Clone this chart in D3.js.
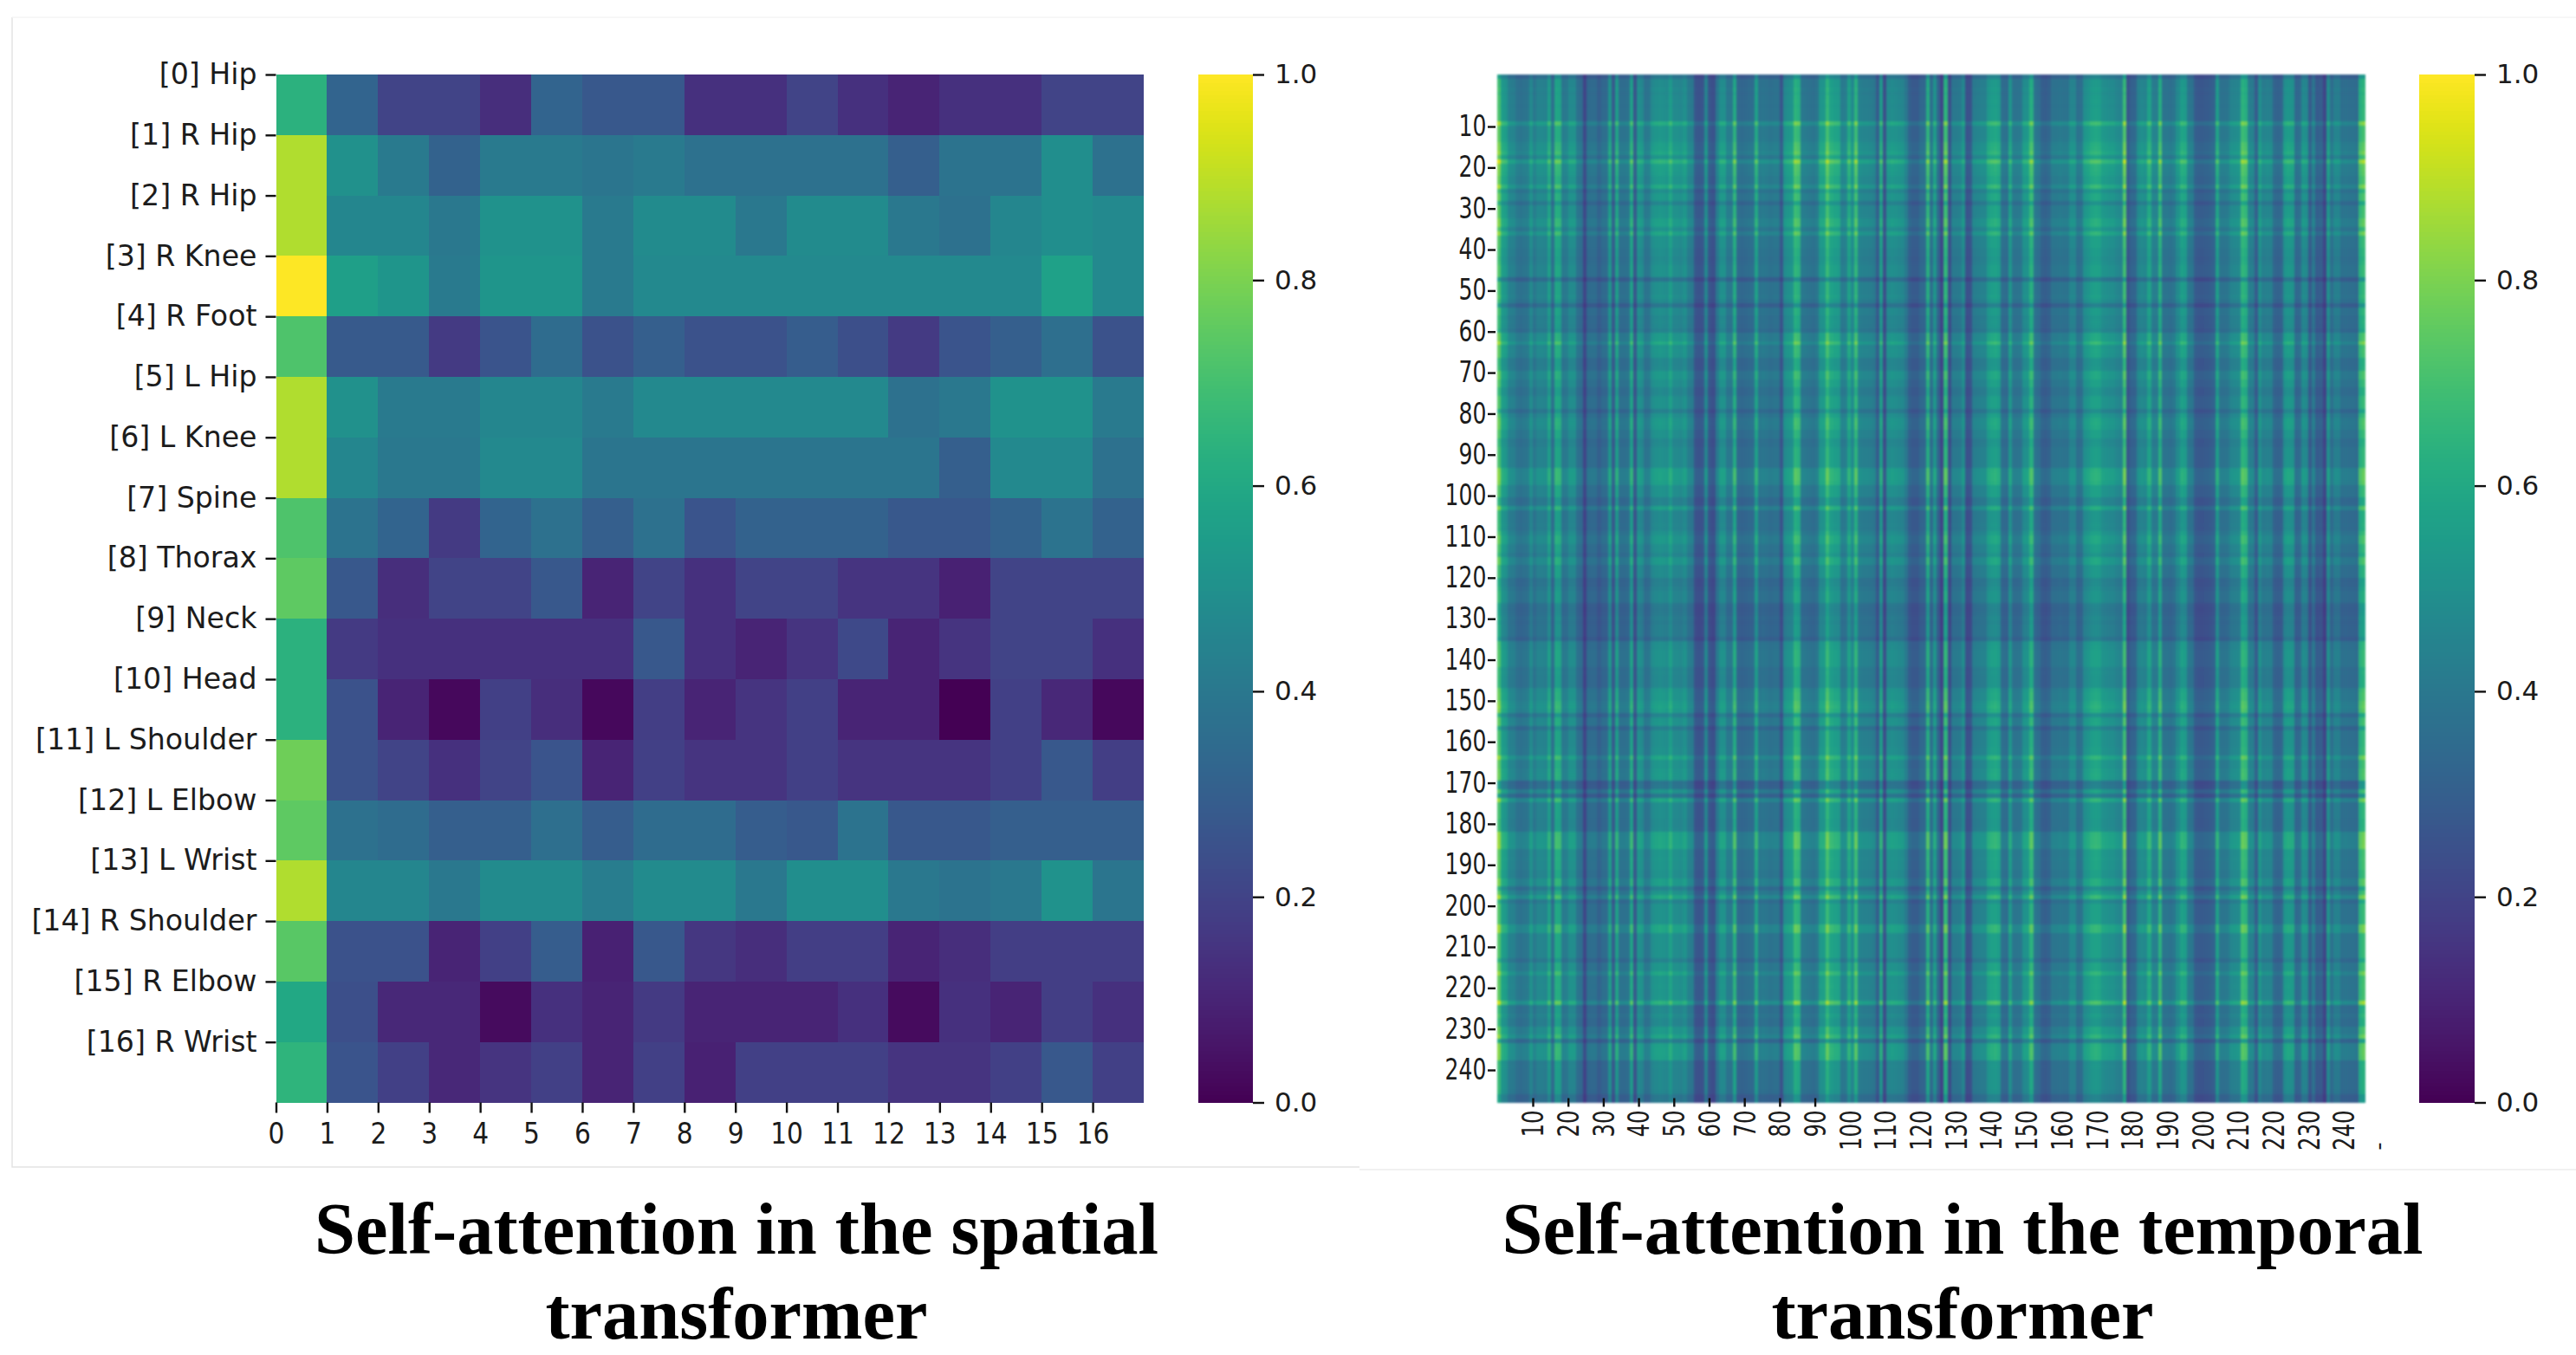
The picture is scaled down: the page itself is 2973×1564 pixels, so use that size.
<!DOCTYPE html>
<html>
<head>
<meta charset="utf-8">
<script src="https://cdn.jsdelivr.net/npm/d3@7"></script>
<style>
  html, body { margin: 0; background: #fff; }
  svg { display: block; }
  text { font-family: "DejaVu Sans", sans-serif; fill: #1c1c1c; }
  .title { font-family: "Liberation Serif", serif; font-weight: bold; fill: #000; text-anchor: middle; }
  .heat { filter: blur(0.7px); }
  .heat.soft { filter: blur(1.1px); }
  .heat rect { shape-rendering: crispEdges; }
</style>
</head>
<body>
<svg id="chart" width="2973" height="1564"></svg>
<script>
// Joint names on the spatial y axis
const jointLabels = ["[0] Hip", "[1] R Hip", "[2] R Hip", "[3] R Knee", "[4] R Foot", "[5] L Hip",
  "[6] L Knee", "[7] Spine", "[8] Thorax", "[9] Neck", "[10] Head", "[11] L Shoulder",
  "[12] L Elbow", "[13] L Wrist", "[14] R Shoulder", "[15] R Elbow", "[16] R Wrist"];

const spatialTicks = [0, 1, 2, 3, 4, 5, 6, 7, 8, 9, 10, 11, 12, 13, 14, 15, 16];

// Spatial attention, one row per joint
const spatialValues = [
  [.64, .32, .20, .20, .13, .32, .27, .27, .14, .14, .20, .14, .10, .14, .14, .20, .20],
  [.88, .50, .41, .31, .41, .41, .39, .41, .37, .37, .37, .37, .30, .38, .38, .49, .37],
  [.88, .46, .46, .40, .51, .51, .41, .48, .48, .40, .48, .48, .40, .37, .46, .49, .47],
  [1.0, .56, .52, .41, .52, .52, .41, .47, .47, .47, .47, .47, .47, .47, .47, .57, .47],
  [.72, .28, .28, .17, .26, .35, .25, .30, .25, .25, .29, .24, .17, .26, .30, .36, .25],
  [.88, .50, .41, .41, .46, .46, .41, .47, .47, .47, .47, .47, .37, .40, .51, .51, .41],
  [.88, .46, .40, .40, .47, .47, .39, .39, .39, .39, .39, .39, .39, .30, .47, .47, .37],
  [.72, .38, .32, .17, .32, .37, .30, .37, .26, .31, .31, .31, .27, .27, .31, .38, .31],
  [.75, .27, .13, .20, .20, .27, .10, .20, .14, .20, .20, .15, .15, .09, .20, .20, .20],
  [.64, .17, .14, .14, .14, .14, .14, .27, .14, .10, .15, .22, .10, .15, .20, .20, .14],
  [.64, .25, .10, .02, .19, .13, .02, .18, .10, .15, .19, .10, .10, .00, .19, .11, .02],
  [.78, .25, .20, .14, .20, .26, .10, .19, .15, .15, .19, .15, .15, .15, .19, .27, .18],
  [.75, .37, .35, .30, .30, .36, .29, .35, .35, .29, .27, .38, .27, .27, .30, .30, .30],
  [.88, .46, .46, .40, .48, .48, .42, .48, .48, .40, .49, .49, .40, .38, .40, .51, .39],
  [.74, .25, .25, .10, .19, .29, .09, .27, .16, .13, .18, .18, .10, .13, .18, .18, .18],
  [.60, .24, .11, .11, .03, .14, .10, .17, .10, .10, .10, .14, .03, .14, .10, .18, .14],
  [.65, .26, .19, .11, .15, .19, .10, .19, .09, .19, .19, .19, .15, .15, .19, .27, .19]
];

const columnLevels = [
  .75, .58, .55, .46, .45, .40, .39, .40, .41, .50, .42, .47, .47, .46, .58, .38, .62, .61, .42, .43,
  .50, .50, .39, .37, .22, .36, .37, .37, .32, .36, .36, .55, .30, .58, .38, .38, .39, .60, .28, .52,
  .50, .40, .41, .50, .52, .53, .52, .51, .58, .50, .50, .49, .52, .44, .43, .28, .27, .28, .48, .28,
  .26, .42, .52, .52, .42, .42, .64, .36, .35, .36, .37, .38, .60, .40, .41, .40, .39, .40, .40, .28,
  .50, .52, .54, .68, .66, .42, .41, .40, .39, .41, .55, .56, .70, .60, .58, .57, .44, .45, .60, .50,
  .68, .46, .45, .45, .44, .43, .30, .58, .25, .50, .51, .50, .49, .48, .42, .32, .30, .30, .35, .36,
  .65, .38, .55, .35, .22, .68, .25, .42, .42, .43, .50, .26, .27, .44, .45, .46, .46, .56, .58, .59,
  .57, .38, .37, .55, .40, .40, .41, .52, .53, .66, .40, .38, .32, .31, .33, .40, .40, .41, .40, .40,
  .48, .48, .38, .39, .52, .54, .58, .59, .58, .53, .52, .51, .51, .48, .47, .72, .28, .33, .34, .47,
  .49, .48, .60, .45, .44, .66, .40, .40, .39, .41, .50, .58, .57, .42, .41, .30, .29, .29, .30, .31,
  .33, .58, .40, .40, .41, .47, .48, .49, .68, .66, .45, .44, .30, .52, .45, .46, .45, .34, .33, .34,
  .53, .55, .54, .35, .36, .50, .49, .30, .42, .30, .31, .22, .52, .38, .45, .45, .38, .39, .38, .38,
  .37, .66, .70
];

const rowGains = [
  .77, .92, .92, .94, .92, .94, .95, .94, .95, .95, .95, 1.18, 1.01, 1.0, 1.0, 1.01, 1.07, 1.08, 1.13, 1.0,
  1.25, 1.09, 1.08, 1.07, 1.03, 1.03, 1.16, .94, 1.03, 1.03, .87, 1.0, 1.0, 1.01, 1.08, 1.09, .97, 1.13, .97, .97,
  .97, .94, .94, .92, .94, .97, .97, .97, .74, .95, .95, .95, .97, .92, .75, .94, .94, .90, .91, .90,
  .86, 1.03, 1.04, 1.16, 1.0, 1.01, 1.0, .90, .90, .91, 1.03, 1.03, .97, .97, .90, .90, .97, .97, .97, .84,
  .97, 1.03, 1.04, 1.03, .97, .97, .90, .91, .95, .95, .95, .95, .95, 1.09, 1.1, 1.1, 1.08, .97, .97, .97,
  .86, .87, 1.07, .90, .90, .90, .91, .90, .97, 1.03, 1.03, .95, .95, .90, 1.03, 1.03, .92, .92, .92, .82,
  .83, .86, .90, .90, .90, .79, .78, .79, .82, .80, .82, .82, .82, .75, .94, .95, .97, .97, .97, .97,
  .90, .91, .90, .90, .90, 1.01, 1.03, 1.03, 1.08, 1.1, 1.07, .86, 1.0, 1.01, .82, .95, .95, .95, .95, .97,
  .97, 1.13, 1.0, 1.0, 1.03, 1.04, 1.03, .75, .77, 1.0, .77, 1.13, .94, .94, .94, .94, .92, .92, .93, 1.12,
  1.13, 1.13, 1.14, 1.0, 1.0, 1.01, 1.0, 1.0, .97, .97, 1.07, 1.07, .86, 1.0, 1.16, .87, .97, .97, .97, .97,
  .97, 1.14, 1.14, .97, .97, .97, .97, .97, .97, .86, 1.0, 1.0, 1.13, 1.0, 1.0, 1.01, 1.0, 1.0, 1.01, 1.23,
  .90, .91, .95, .90, .90, 1.03, 1.03, 1.12, .82, 1.08, 1.09, 1.09, 1.08, .90, .91, .90, .90, .90, .90, .90,
  .88, .77, .78
];

const temporalTicks = [10, 20, 30, 40, 50, 60, 70, 80, 90, 100, 110, 120, 130, 140, 150, 160, 170,
  180, 190, 200, 210, 220, 230, 240];

const colorbarTicks = [0, 0.2, 0.4, 0.6, 0.8, 1.0];

const titleSpatial = ["Self-attention in the spatial", "transformer"];
const titleTemporal = ["Self-attention in the temporal", "transformer"];

const svg = d3.select("#chart");
const color = d3.scaleSequential(d3.interpolateViridis).domain([0, 1]).clamp(true);

const plotTop = 86, plotBottom = 1272.5;

// Faint edges of the two pasted panels
const frame = svg.append("g").attr("fill", "none");
frame.append("path").attr("d", "M14,20V1347H1569").attr("stroke", "#e4e4e4").attr("stroke-width", 1.5);
frame.append("path").attr("d", "M1569,1350H2973").attr("stroke", "#ededed").attr("stroke-width", 1.5);
frame.append("path").attr("d", "M14,20H2973").attr("stroke", "#f4f4f4").attr("stroke-width", 1.5);

function styleAxis(g) {
  g.select(".domain").remove();
  g.selectAll("line").attr("stroke", "#111").attr("stroke-width", 2.4);
  g.selectAll("text").attr("font-size", 31).attr("font-family", null);
}

function drawColorbar(x0, x1) {
  const y = d3.scaleLinear().domain([0, 1]).range([plotBottom, plotTop]);
  const steps = d3.range(0, 255);
  svg.append("g").attr("class", "heat")
    .selectAll("rect")
    .data(steps)
    .join("rect")
    .attr("x", x0)
    .attr("width", x1 - x0)
    .attr("y", (d) => y((d + 1) / 255))
    .attr("height", (d) => y(d / 255) - y((d + 1) / 255) + 0.5)
    .attr("fill", (d) => color((d + 0.5) / 255));
  svg.append("g")
    .attr("transform", `translate(${x1},0)`)
    .call(d3.axisRight(y).tickValues(colorbarTicks).tickSize(13).tickPadding(12).tickFormat(d3.format(".1f")))
    .call(styleAxis);
}

// Spatial heatmap
const spatialX = d3.scaleLinear().domain([0, 17]).range([318.5, 1320]);
const spatialY = d3.scaleLinear().domain([0, 17]).range([plotTop, plotBottom]);

svg.append("g").attr("class", "heat")
  .selectAll("g")
  .data(spatialValues)
  .join("g")
  .selectAll("rect")
  .data((row, i) => row.map((v, j) => ({ v, i, j })))
  .join("rect")
  .attr("x", (d) => spatialX(d.j))
  .attr("y", (d) => spatialY(d.i))
  .attr("width", (d) => spatialX(d.j + 1) - spatialX(d.j))
  .attr("height", (d) => spatialY(d.i + 1) - spatialY(d.i))
  .attr("fill", (d) => color(d.v));

svg.append("g")
  .attr("transform", `translate(318.5,0)`)
  .call(d3.axisLeft(spatialY).tickValues(spatialTicks).tickSize(12).tickPadding(10).tickFormat((i) => jointLabels[i]))
  .call(styleAxis)
  .selectAll("text")
  .attr("font-size", 33.2);

svg.append("g")
  .attr("transform", `translate(0,${plotBottom})`)
  .call(d3.axisBottom(spatialX).tickValues(spatialTicks).tickSize(12).tickPadding(12))
  .call(styleAxis)
  .selectAll("text")
  .attr("font-size", 33)
  .attr("transform", "scale(.9,1)");

drawColorbar(1383, 1446);

// Temporal heatmap
const temporalX = d3.scaleLinear().domain([0, columnLevels.length]).range([1728, 2730]);
const temporalY = d3.scaleLinear().domain([0, rowGains.length]).range([plotTop, plotBottom]);

const cells = [];
rowGains.forEach((gain, i) => {
  columnLevels.forEach((level, j) => cells.push({ i, j, v: level * gain }));
});

svg.append("g").attr("class", "heat soft")
  .selectAll("rect")
  .data(cells)
  .join("rect")
  .attr("x", (d) => temporalX(d.j))
  .attr("y", (d) => temporalY(d.i))
  .attr("width", (d) => temporalX(d.j + 1) - temporalX(d.j))
  .attr("height", (d) => temporalY(d.i + 1) - temporalY(d.i))
  .attr("fill", (d) => color(d.v));

// The temporal tick labels do not line up with the cells in the original, so they get their own scales
const temporalTickX = d3.scaleLinear().domain([10, 240]).range([1769, 2705]);
const temporalTickY = d3.scaleLinear().domain([10, 240]).range([146, 1235]);

svg.append("g")
  .attr("transform", "translate(1726,0)")
  .call(d3.axisLeft(temporalTickY).tickValues(temporalTicks).tickSize(9).tickPadding(5))
  .call(styleAxis)
  .selectAll("text")
  .attr("font-size", 33)
  .attr("transform", "scale(.76,1)");

const temporalAxisX = svg.append("g")
  .attr("transform", `translate(0,${plotBottom})`)
  .call(d3.axisBottom(temporalTickX).tickValues(temporalTicks).tickSize(5))
  .call(styleAxis);

temporalAxisX.selectAll("line").attr("y1", -5).attr("opacity", (d) => (d < 100 ? 1 : 0));
temporalAxisX.selectAll("text")
  .attr("font-size", 33)
  .attr("x", 0)
  .attr("y", 0)
  .attr("dy", ".36em")
  .attr("text-anchor", "end")
  .attr("transform", "translate(0,9) rotate(-90) scale(.74,1)");

// Stray dash after the last tick label
svg.append("text")
  .attr("transform", "translate(2745,1323) rotate(-90)")
  .attr("font-size", 26)
  .attr("text-anchor", "middle")
  .attr("dy", ".36em")
  .text("-");

drawColorbar(2792, 2856);

// Captions
function drawTitle(lines, x) {
  svg.append("text").attr("class", "title").attr("x", x).attr("y", 1447).attr("font-size", 84.5).text(lines[0]);
  svg.append("text").attr("class", "title").attr("x", x).attr("y", 1545).attr("font-size", 84.5).text(lines[1]);
}
drawTitle(titleSpatial, 850);
drawTitle(titleTemporal, 2265);
</script>
</body>
</html>
